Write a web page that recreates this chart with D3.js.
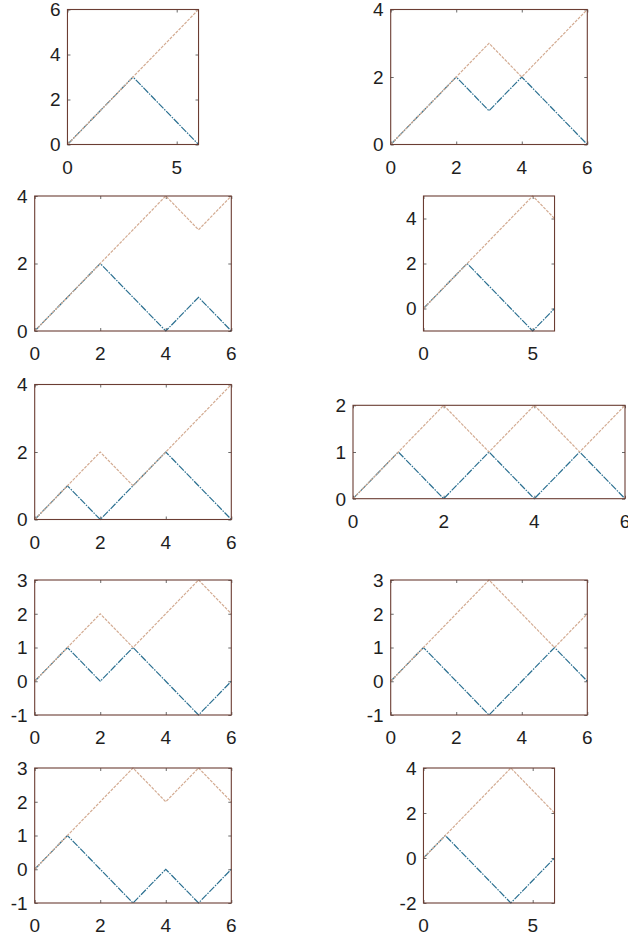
<!DOCTYPE html>
<html>
<head>
<meta charset="utf-8">
<script src="https://cdn.jsdelivr.net/npm/d3@7"></script>
<style>
  body { margin: 0; background: #fff; }
  svg { display: block; }
</style>
</head>
<body>
<svg id="chart" width="628" height="940"></svg>
<script>
// steps of the walk, shared by every panel
var steps = [0, 1, 2, 3, 4, 5, 6];

// walk (blue) and its transform (orange), one per panel, row by row
var walk1 = [0, 1, 2, 3, 2, 1, 0],   refl1 = [0, 1, 2, 3, 4, 5, 6];
var walk2 = [0, 1, 2, 1, 2, 1, 0],   refl2 = [0, 1, 2, 3, 2, 3, 4];
var walk3 = [0, 1, 2, 1, 0, 1, 0],   refl3 = [0, 1, 2, 3, 4, 3, 4];
var walk4 = [0, 1, 2, 1, 0, -1, 0],  refl4 = [0, 1, 2, 3, 4, 5, 4];
var walk5 = [0, 1, 0, 1, 2, 1, 0],   refl5 = [0, 1, 2, 1, 2, 3, 4];
var walk6 = [0, 1, 0, 1, 0, 1, 0],   refl6 = [0, 1, 2, 1, 2, 1, 2];
var walk7 = [0, 1, 0, 1, 0, -1, 0],  refl7 = [0, 1, 2, 1, 2, 3, 2];
var walk8 = [0, 1, 0, -1, 0, 1, 0],  refl8 = [0, 1, 2, 3, 2, 1, 2];
var walk9 = [0, 1, 0, -1, 0, -1, 0], refl9 = [0, 1, 2, 3, 2, 3, 2];
var walk10 = [0, 1, 0, -1, -2, -1, 0], refl10 = [0, 1, 2, 3, 4, 3, 2];

var walks = [walk1, walk2, walk3, walk4, walk5, walk6, walk7, walk8, walk9, walk10];
var refls = [refl1, refl2, refl3, refl4, refl5, refl6, refl7, refl8, refl9, refl10];

// y limits and tick labels per panel
var yLims = [[0, 6], [0, 4], [0, 4], [-1, 5], [0, 4], [0, 2], [-1, 3], [-1, 3], [-1, 3], [-2, 4]];
var yTicks = [[0, 2, 4, 6], [0, 2, 4], [0, 2, 4], [0, 2, 4], [0, 2, 4], [0, 1, 2],
  [-1, 0, 1, 2, 3], [-1, 0, 1, 2, 3], [-1, 0, 1, 2, 3], [-2, 0, 2, 4]];
var xTicks = [[0, 5], [0, 2, 4, 6], [0, 2, 4, 6], [0, 5], [0, 2, 4, 6], [0, 2, 4, 6],
  [0, 2, 4, 6], [0, 2, 4, 6], [0, 2, 4, 6], [0, 5]];
var xLim = [0, 6];

// subplot grid (axis equal boxes fit inside each cell)
var colCenters = [133, 489];
var rowCenters = [77, 263.5, 452, 647.5, 835.5];
var cellW = 272, cellH = 135, aspect = 1.03;

var frameColor = "#6b3d33";
var walkColor = "#2a6f90";
var reflColor = "#d3ab92";
var textColor = "#1e1e1e";
var labelFont = "19px 'Liberation Sans', Arial, sans-serif";

var svg = d3.select("#chart");

walks.forEach(function(walk, i){
  var row = Math.floor(i / 2), col = i % 2;
  var xs = xLim[1] - xLim[0];
  var ys = yLims[i][1] - yLims[i][0];
  var unit = Math.min(cellW / xs, cellH / (ys * aspect));
  var w = unit * xs, h = unit * aspect * ys;
  var left = colCenters[col] - w / 2;
  var top = rowCenters[row] - h / 2;

  var x = d3.scaleLinear().domain(xLim).range([0, w]);
  var y = d3.scaleLinear().domain(yLims[i]).range([h, 0]);

  var g = svg.append("g").attr("transform", `translate(${left},${top})`);

  // inward ticks on all four sides
  var tl = 3;
  g.append("g").call(d3.axisBottom(x).tickValues(xTicks[i]).tickSize(-tl).tickFormat(""))
    .attr("transform", `translate(0,${h})`);
  g.append("g").call(d3.axisTop(x).tickValues(xTicks[i]).tickSize(-tl).tickFormat(""));
  g.append("g").call(d3.axisLeft(y).tickValues(yTicks[i]).tickSize(-tl).tickFormat(""));
  g.append("g").call(d3.axisRight(y).tickValues(yTicks[i]).tickSize(-tl).tickFormat(""))
    .attr("transform", `translate(${w},0)`);
  g.selectAll(".domain").remove();
  g.selectAll(".tick line").attr("stroke", "#444").attr("stroke-width", 0.8);

  var line = d3.line().x((d, k) => x(steps[k])).y(d => y(d));

  g.append("path")
    .datum(walk)
    .attr("d", line)
    .attr("fill", "none")
    .attr("stroke", walkColor)
    .attr("stroke-width", 1.2)
    .attr("stroke-dasharray", "7,1.2,1.5,1.2");

  g.append("path")
    .datum(refls[i])
    .attr("d", line)
    .attr("fill", "none")
    .attr("stroke", reflColor)
    .attr("stroke-width", 1.2)
    .attr("stroke-dasharray", "3,1.2");

  g.append("rect")
    .attr("x", 0).attr("y", 0)
    .attr("width", w).attr("height", h)
    .attr("fill", "none")
    .attr("stroke", frameColor)
    .attr("stroke-width", 1.1);

  g.append("g")
    .selectAll("text")
    .data(yTicks[i])
    .join("text")
    .attr("x", -7)
    .attr("y", d => y(d))
    .attr("dy", "0.36em")
    .attr("text-anchor", "end")
    .attr("fill", textColor)
    .style("font", labelFont)
    .text(d => d);

  g.append("g")
    .selectAll("text")
    .data(xTicks[i])
    .join("text")
    .attr("x", d => x(d))
    .attr("y", h + 29)
    .attr("text-anchor", "middle")
    .attr("fill", textColor)
    .style("font", labelFont)
    .text(d => d);
});
</script>
</body>
</html>
